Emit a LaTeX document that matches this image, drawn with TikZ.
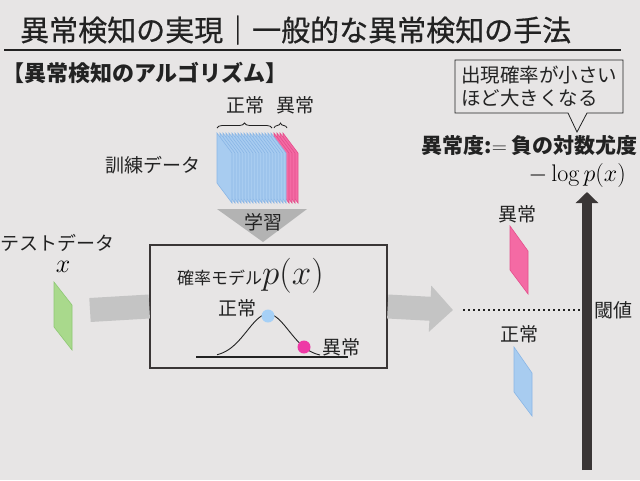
\RequirePackage{fix-cm}
\documentclass[tikz,border=0pt]{standalone}
\usepackage[no-math]{fontspec}
\setmainfont{Noto Sans CJK JP}
\newfontfamily\titlefont{Noto Sans CJK JP}[FakeBold=0.6]
\usetikzlibrary{arrows.meta,positioning,decorations.pathreplacing}

\definecolor{bgc}{HTML}{E7E5E5}
\definecolor{txtc}{HTML}{222222}
\definecolor{normc}{HTML}{A8CCF0}
\definecolor{normedge}{HTML}{8AB6E6}
\definecolor{anomc}{HTML}{F46AA4}
\definecolor{anomedge}{HTML}{E4508C}
\definecolor{testc}{HTML}{A9D98C}
\definecolor{testedge}{HTML}{8EC874}
\definecolor{barc}{HTML}{C4C4C4}
\definecolor{learnc}{HTML}{B3B3B3}
\definecolor{axisc}{HTML}{3A3636}
\definecolor{normdot}{HTML}{A6D0F6}
\definecolor{anomdot}{HTML}{EE3AA6}

\tikzset{
  jtext/.style={font=\fontsize{19}{23}\selectfont, text=txtc, inner sep=0pt},
  slabnorm/.style={fill=normc, draw=normedge, line width=0.6pt},
  slabanom/.style={fill=anomc, draw=anomedge, line width=0.6pt},
  flowbar/.style={draw=barc, line width=24pt},
  tickbrace/.style={decorate, decoration={brace, amplitude=5pt}, line width=0.8pt, draw=txtc}
}

\begin{document}
\begin{tikzpicture}[x=1pt, y=-1pt]
  \useasboundingbox (0,0) rectangle (640,480);
  \fill[bgc] (0,0) rectangle (640,480);

  % title
  \node[jtext, anchor=west, font=\titlefont\fontsize{29}{32}\selectfont] (title) at (20,30) {異常検知の実現｜一般的な異常検知の手法};
  \draw[line width=2.5pt, txtc] (4,50) -- (621,50);
  \node[jtext, anchor=west, font=\fontsize{22}{24}\selectfont\bfseries] (subtitle) at (2,73) {【異常検知のアルゴリズム】};

  % training data
  \foreach \i in {22,21,...,0} {
    \pgfmathsetmacro{\xo}{217+3*\i}
    \ifnum\i>18
      \draw[slabanom] (\xo,133) -- (\xo+15,153) -- (\xo+15,203) -- (\xo,183) -- cycle;
    \else
      \draw[slabnorm] (\xo,133) -- (\xo+15,153) -- (\xo+15,203) -- (\xo,183) -- cycle;
    \fi
  }
  \draw[tickbrace] (217,128) -- (272,128);
  \draw[tickbrace] (274,128) -- (287,128);
  \node[jtext] (normlabel) at (245,105) {正常};
  \node[jtext] (anomlabel) at (295,105) {異常};
  \node[jtext] (trainlabel) at (153,165) {訓練データ};

  % learning
  \fill[learnc] (217,209) -- (307,209) -- (263,242) -- cycle;
  \node[jtext] (learn) at (263,222) {学習};

  % model
  \coordinate (testend) at (90,310);
  \coordinate (scoretip) at (453,310);
  \node[draw=axisc, line width=1.5pt, minimum width=237pt, minimum height=123pt, inner sep=0pt] (model) at (268.5,306.5) {};
  \draw[flowbar] (testend) -- (model.west);
  \draw[flowbar, -{Triangle[width=45pt, length=23pt]}, barc] (model.east) -- (scoretip);
  \node[jtext, anchor=west, font=\fontsize{17}{20}\selectfont] (modeltitle) at (177,276) {確率モデル\fontsize{35}{38}\selectfont$p(x)$};
  \draw[line width=1.5pt, txtc] (196,357) -- (348,357);
  \draw[line width=0.9pt, txtc] plot[domain=217:320, samples=60] (\x, {357-43*exp(-((\x-268)/21)^2/2)});
  \fill[normdot] (268,316) circle (6.5pt);
  \fill[anomdot] (304,347) circle (6.5pt);
  \node[jtext] (peaklabel) at (237,308) {正常};
  \node[jtext] (taillabel) at (341,347) {異常};

  % test data
  \node[jtext] (testlabel) at (58,243) {テストデータ};
  \node[inner sep=0pt, font=\fontsize{26}{28}\selectfont] (testx) at (63,267) {$x$};
  \draw[fill=testc, draw=testedge, line width=0.6pt] (54,282) -- (72,305) -- (72,350) -- (54,327) -- cycle;

  % scores
  \node[jtext] (highlabel) at (517,214) {異常};
  \draw[fill=anomc, draw=anomedge, line width=0.6pt] (510,226) -- (528,251) -- (528,294) -- (510,270) -- cycle;
  \node[jtext] (lowlabel) at (519,334) {正常};
  \draw[fill=normc, draw=normedge, line width=0.6pt] (514,347) -- (532,373) -- (532,416) -- (514,392) -- cycle;

  % threshold and axis
  \coordinate (axbot) at (587,470);
  \coordinate (axtop) at (587,192);
  \draw[line width=2pt, txtc, dash pattern=on 2pt off 3pt] (463,310) -- (585,310);
  \draw[axisc, line width=10pt, -{Triangle[width=22pt, length=11pt]}] (axbot) -- (axtop);
  \node[jtext] (threshold) at (613,310) {閾値};

  % score definition
  \node[jtext, anchor=east, font=\fontsize{21}{24}\selectfont] (scoredef) at (638,146) {\textbf{異常度:}$=$ \textbf{負の対数尤度}};
  \node[inner sep=0pt, anchor=east, font=\fontsize{24}{26}\selectfont] (scoremath) at (626,175) {$-\log p(x)$};

  % note
  \draw[fill=bgc, draw=txtc, line width=0.8pt] (455,60) -- (623,60) -- (623,113) -- (587,113) -- (577,132) -- (568,113) -- (455,113) -- cycle;
  \node[jtext, anchor=west, align=left, font=\fontsize{19.5}{23}\selectfont] (note) at (461,86.5) {出現確率が小さい\\ほど大きくなる};
\end{tikzpicture}
\end{document}
